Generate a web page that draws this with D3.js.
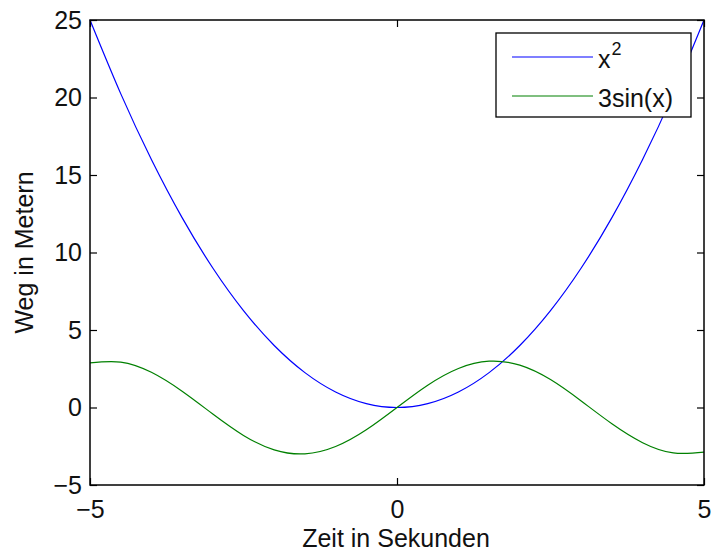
<!DOCTYPE html>
<html>
<head>
<meta charset="utf-8">
<script src="https://cdn.jsdelivr.net/npm/d3@7"></script>
<style>
  html, body { margin: 0; padding: 0; background: #fff; }
  svg { display: block; font-family: "Liberation Sans", Arial, Helvetica, sans-serif; }
</style>
</head>
<body>
<svg id="chart" width="711" height="556"></svg>
<script>
// Sample positions (seconds)
const xValues = [-5, -4.5, -4, -3.5, -3, -2.5, -2, -1.5, -1, -0.5, 0,
                 0.5, 1, 1.5, 2, 2.5, 3, 3.5, 4, 4.5, 5];
// Series: x^2
const squareValues = [25, 20.25, 16, 12.25, 9, 6.25, 4, 2.25, 1, 0.25, 0,
                      0.25, 1, 2.25, 4, 6.25, 9, 12.25, 16, 20.25, 25];
// Series: 3 sin(x)
const sineValues = [2.88, 2.93, 2.27, 1.05, -0.42, -1.80, -2.73, -2.99, -2.52, -1.44, 0,
                    1.44, 2.52, 2.99, 2.73, 1.80, 0.42, -1.05, -2.27, -2.93, -2.88];
const xTicks = [-5, 0, 5];
const yTicks = [-5, 0, 5, 10, 15, 20, 25];
const seriesNames = ["x2", "3sin(x)"];
const seriesColors = ["#0000ff", "#008000"];

const svg = d3.select("#chart");
const plotL = 90, plotR = 704, plotT = 20, plotB = 485;
const fs = 25;

const x = d3.scaleLinear().domain([-5, 5]).range([plotL, plotR]);
const y = d3.scaleLinear().domain([-5, 25]).range([plotB, plotT]);
const fmt = d => (d < 0 ? "\u2212" + Math.abs(d) : String(d));

// Curves
const line = d3.line().x(d => x(d[0])).y(d => y(d[1])).curve(d3.curveNatural);
[squareValues, sineValues].forEach((vals, i) => {
  svg.append("path")
    .datum(xValues.map((v, k) => [v, vals[k]]))
    .attr("d", line)
    .attr("fill", "none")
    .attr("stroke", seriesColors[i])
    .attr("stroke-width", 1.2);
});

// Axes (ticks pointing inward, mirrored on opposite sides)
const tickLen = 7;
const axisStyle = g => {
  g.select(".domain").remove();
  g.selectAll("line").attr("stroke", "#000").attr("stroke-width", 1.2);
  g.selectAll("text").attr("font-size", fs).attr("fill", "#111");
};
svg.append("g").attr("transform", `translate(0,${plotB})`)
  .call(d3.axisBottom(x).tickValues(xTicks).tickFormat(fmt).tickSizeInner(-tickLen).tickPadding(15))
  .call(axisStyle);
svg.append("g").attr("transform", `translate(0,${plotT})`)
  .call(d3.axisTop(x).tickValues(xTicks).tickFormat("").tickSizeInner(-tickLen))
  .call(axisStyle);
svg.append("g").attr("transform", `translate(${plotL},0)`)
  .call(d3.axisLeft(y).tickValues(yTicks).tickFormat(fmt).tickSizeInner(-tickLen).tickPadding(8))
  .call(axisStyle);
svg.append("g").attr("transform", `translate(${plotR},0)`)
  .call(d3.axisRight(y).tickValues(yTicks).tickFormat("").tickSizeInner(-tickLen))
  .call(axisStyle);

// Frame
svg.append("rect")
  .attr("x", plotL).attr("y", plotT)
  .attr("width", plotR - plotL).attr("height", plotB - plotT)
  .attr("fill", "none").attr("stroke", "#000").attr("stroke-width", 1.5);

// Axis titles
svg.append("text")
  .attr("x", (plotL + plotR) / 2 - 1).attr("y", 547)
  .attr("text-anchor", "middle").attr("font-size", fs).attr("fill", "#111")
  .text("Zeit in Sekunden");
svg.append("text")
  .attr("transform", `translate(33,${(plotT + plotB) / 2}) rotate(-90)`)
  .attr("text-anchor", "middle").attr("font-size", fs).attr("fill", "#111")
  .text("Weg in Metern");

// Legend
const lg = svg.append("g");
lg.append("rect")
  .attr("x", 496).attr("y", 33).attr("width", 195).attr("height", 84)
  .attr("fill", "#fff").attr("stroke", "#000").attr("stroke-width", 1.3);
const rowsY = [57, 96];
seriesNames.forEach((name, i) => {
  lg.append("line")
    .attr("x1", 512).attr("x2", 593)
    .attr("y1", rowsY[i]).attr("y2", rowsY[i])
    .attr("stroke", seriesColors[i]).attr("stroke-width", 1.2);
  const t = lg.append("text")
    .attr("x", 598).attr("y", rowsY[i] + 10.5)
    .attr("font-size", fs).attr("fill", "#111");
  if (name === "x2") {
    t.append("tspan").text("x");
    t.append("tspan").attr("dx", 1).attr("dy", -13).attr("font-size", 18).text("2");
  } else {
    t.text(name);
  }
});
</script>
</body>
</html>
